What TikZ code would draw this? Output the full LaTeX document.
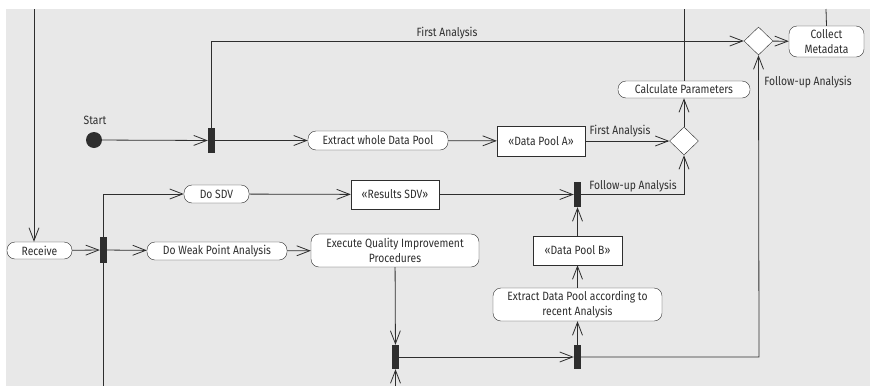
\documentclass[tikz,border=0pt]{standalone}
\usepackage{fontspec}
\setmainfont{Fira Sans}[FakeStretch=0.86]
\usetikzlibrary{arrows.meta,shapes.geometric}
\definecolor{bgray}{HTML}{E8E8E8}
\definecolor{ink}{HTML}{2E2E2E}
\tikzset{
	act/.style={draw=ink, fill=white, rounded corners=8pt, inner sep=0pt, align=center, text=ink, font=\fontsize{12}{14.5}\selectfont},
	obj/.style={draw=ink, fill=white, inner sep=0pt, align=center, text=ink, font=\fontsize{12}{14.5}\selectfont},
	bar/.style={fill=ink, draw=none, inner sep=0pt, minimum width=7pt, minimum height=25pt},
	dec/.style={diamond, draw=ink, fill=white, inner sep=0pt, minimum width=29pt, minimum height=28pt},
	lbl/.style={inner sep=0pt, text=ink, font=\fontsize{12}{14.5}\selectfont},
	flow/.style={draw=ink, line width=0.8pt, -{Straight Barb[length=13pt, width=10pt, line width=0.8pt]}},
	line/.style={draw=ink, line width=0.8pt}
}
\begin{document}
\begin{tikzpicture}[x=1pt, y=-1pt]
	\useasboundingbox (0,0) rectangle (870,386);
	\fill[bgray] (6,9) rectangle (870,386);

	% start and first branch
	\node[circle, fill=ink, minimum size=16pt, inner sep=0pt] (start) at (94, 140) {};
	\node[lbl] (startlbl) at (95, 120) {Start};
	\node[bar] (fork0) at (211.5, 140.5) {};
	\node[act, minimum width=140pt, minimum height=19pt] (extractall) at (378, 140.5) {Extract whole Data Pool};
	\node[obj, minimum width=88pt, minimum height=30pt] (poolA) at (541, 141) {«Data Pool A»};
	\node[dec] (dec2) at (684, 141) {};
	\node[act, minimum width=132pt, minimum height=17pt] (calc) at (684, 89.5) {Calculate Parameters};
	\node[dec] (dec1) at (758.5, 41) {};
	\node[act, minimum width=75pt, minimum height=31pt] (collect) at (826.5, 41.5) {Collect\\Metadata};

	% receive branch
	\node[act, minimum width=65pt, minimum height=17pt] (receive) at (39.5, 250.5) {Receive};
	\node[bar, minimum height=26pt] (fork1) at (103.5, 250) {};
	\node[act, minimum width=65pt, minimum height=18pt] (sdv) at (216.5, 194) {Do SDV};
	\node[act, minimum width=140pt, minimum height=18pt] (weak) at (217, 251) {Do Weak Point Analysis};
	\node[obj, minimum width=88pt, minimum height=29pt] (results) at (395, 194.5) {«Results SDV»};
	\node[act, minimum width=168pt, minimum height=33pt] (quality) at (395, 250.5) {Execute Quality Improvement\\Procedures};
	\node[bar, minimum height=24pt] (fork2) at (395.5, 357) {};
	\node[bar, minimum height=24pt] (fork3) at (577.5, 357) {};
	\node[act, minimum width=169pt, minimum height=33pt] (extractrec) at (577.5, 304.5) {Extract Data Pool according to\\recent Analysis};
	\node[obj, minimum width=89pt, minimum height=29pt] (poolB) at (577.5, 250.5) {«Data Pool B»};
	\node[bar] (fork4) at (577.5, 194.5) {};

	% free ends
	\coordinate (top1) at (34, 9);
	\coordinate (top2) at (684, 9);
	\coordinate (top3) at (826, 9);
	\coordinate (bot1) at (103.5, 386);
	\coordinate (bot2) at (395.5, 386);
	\coordinate (turn) at (759, 357);

	% connectors
	\draw[flow] (top1) -- (top1 |- receive.north);
	\draw[flow] (receive) -- (fork1);
	\draw[flow] (fork1) -- (weak);
	\draw[flow] (fork1.north) |- (sdv.west);
	\draw[line] (fork1.south) -- (bot1);
	\draw[flow] (sdv) -- (results);
	\draw[flow] (results) -- (fork4);
	\draw[flow] (weak) -- (quality);
	\draw[flow] (quality) -- (fork2);
	\draw[flow] (bot2) -- (fork2.south);
	\draw[flow] (fork2) -- (fork3);
	\draw[flow] (fork3) -- (extractrec);
	\draw[flow] (extractrec) -- (poolB);
	\draw[flow] (poolB) -- (fork4);
	\draw[flow] (fork3.east) -- (turn) -- (dec1.south);
	\draw[flow] (fork4.east) -| (dec2.south);
	\draw[flow] (start) -- (fork0);
	\draw[flow] (fork0) -- (extractall);
	\draw[flow] (extractall) -- (poolA);
	\draw[flow] (poolA) -- (dec2);
	\draw[flow] (fork0.north) |- (dec1.west);
	\draw[flow] (dec2) -- (calc);
	\draw[line] (calc.north) -- (top2);
	\draw[flow] (dec1) -- (collect);
	\draw[line] (collect.north) -- (top3);

	% guard labels
	\node[lbl] (firstA) at (447, 33) {First Analysis};
	\node[lbl] (firstB) at (620, 131) {First Analysis};
	\node[lbl] (followA) at (633, 186) {Follow-up Analysis};
	\node[lbl] (followB) at (808, 82) {Follow-up Analysis};
\end{tikzpicture}
\end{document}
